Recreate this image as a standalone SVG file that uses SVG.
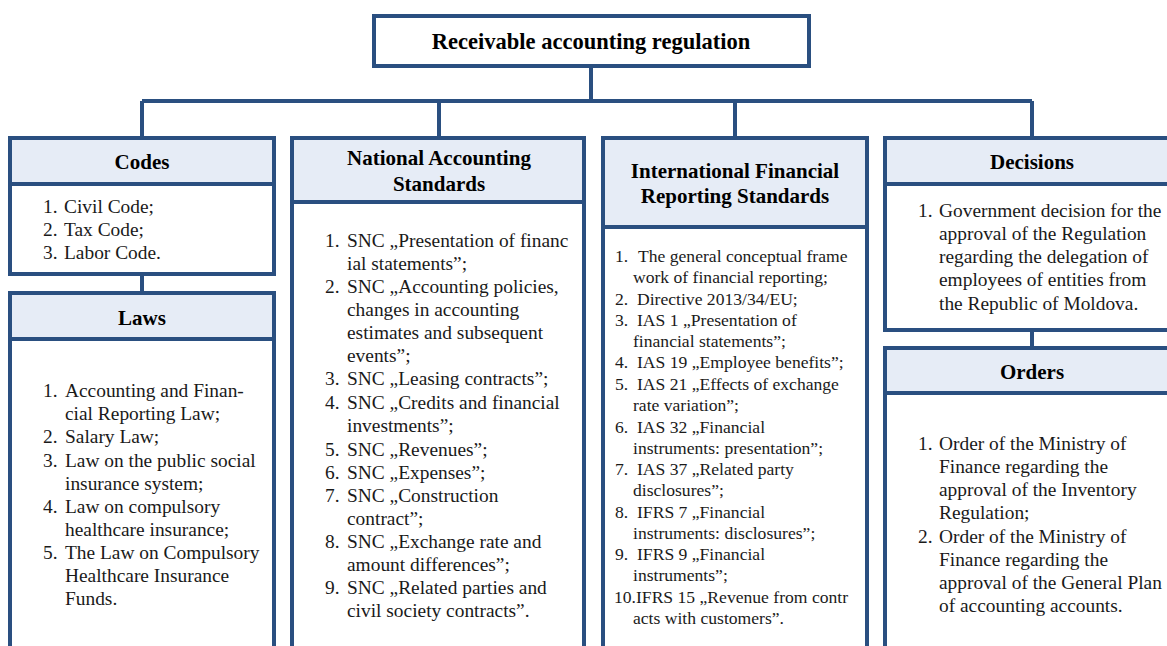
<svg xmlns="http://www.w3.org/2000/svg" width="1167" height="646" viewBox="0 0 1167 646">
  <style>
    .box { fill: #ffffff; stroke: #2a4f80; stroke-width: 4; }
    .head { fill: #e6ecf6; stroke: #2a4f80; stroke-width: 4; }
    .wire { fill: none; stroke: #2a4f80; stroke-width: 4; }
    .title { font-family: "Liberation Serif", "Times New Roman", serif; font-weight: bold; font-size: 22.5px; fill: #000; text-anchor: middle; }
    .hd { font-family: "Liberation Serif", "Times New Roman", serif; font-weight: bold; font-size: 21px; fill: #000; text-anchor: middle; }
    .it { font-family: "Liberation Serif", "Times New Roman", serif; font-size: 19.4px; fill: #1a1a1a; }
    .sm { font-family: "Liberation Serif", "Times New Roman", serif; font-size: 17.6px; fill: #1a1a1a; }
  </style>
  <rect width="1167" height="646" fill="#ffffff"/>

  <!-- connectors -->
  <g id="connectors">
    <path class="wire" d="M591 66 V101 M142 101 H1032 M142 101 V138 M439 101 V138 M735 101 V138 M1032 101 V138"/>
    <path class="wire" d="M142 274 V293"/>
    <path class="wire" d="M1032 330 V348"/>
  </g>

  <!-- root -->
  <g id="root">
    <rect class="box" x="374" y="16" width="435" height="50"/>
    <text class="title" x="591" y="49">Receivable accounting regulation</text>
  </g>

  <!-- Codes -->
  <g id="codes">
    <rect class="box" x="10" y="138" width="264" height="136"/>
    <rect class="head" x="10" y="138" width="264" height="46"/>
    <text class="hd" x="142" y="169">Codes</text>
    <g class="it">
      <text x="43" y="213">1.</text><text x="64" y="213">Civil Code;</text>
      <text x="43" y="236">2.</text><text x="64" y="236">Tax Code;</text>
      <text x="43" y="259">3.</text><text x="64" y="259">Labor Code.</text>
    </g>
  </g>

  <!-- Laws -->
  <g id="laws">
    <rect class="box" x="10" y="293" width="264" height="380"/>
    <rect class="head" x="10" y="293" width="264" height="46"/>
    <text class="hd" x="142" y="325">Laws</text>
    <g class="it">
      <text x="43" y="397">1.</text><text x="65" y="397">Accounting and Finan-</text>
      <text x="65" y="420">cial Reporting Law;</text>
      <text x="43" y="443">2.</text><text x="65" y="443">Salary Law;</text>
      <text x="43" y="467">3.</text><text x="65" y="467">Law on the public social</text>
      <text x="65" y="490">insurance system;</text>
      <text x="43" y="513">4.</text><text x="65" y="513">Law on compulsory</text>
      <text x="65" y="536">healthcare insurance;</text>
      <text x="43" y="559">5.</text><text x="65" y="559">The Law on Compulsory</text>
      <text x="65" y="582">Healthcare Insurance</text>
      <text x="65" y="605">Funds.</text>
    </g>
  </g>

  <!-- National Accounting Standards -->
  <g id="nas">
    <rect class="box" x="292" y="138" width="292" height="535"/>
    <rect class="head" x="292" y="138" width="292" height="64"/>
    <text class="hd" x="439" y="165">National Accounting</text>
    <text class="hd" x="439" y="191">Standards</text>
    <g class="it">
      <text x="325" y="247">1.</text><text x="347" y="247">SNC „Presentation of financ</text>
      <text x="347" y="270">ial statements”;</text>
      <text x="325" y="293">2.</text><text x="347" y="293">SNC „Accounting policies,</text>
      <text x="347" y="316">changes in accounting</text>
      <text x="347" y="339">estimates and subsequent</text>
      <text x="347" y="362">events”;</text>
      <text x="325" y="385">3.</text><text x="347" y="385">SNC „Leasing contracts”;</text>
      <text x="325" y="409">4.</text><text x="347" y="409">SNC „Credits and financial</text>
      <text x="347" y="432">investments”;</text>
      <text x="325" y="456">5.</text><text x="347" y="456">SNC „Revenues”;</text>
      <text x="325" y="479">6.</text><text x="347" y="479">SNC „Expenses”;</text>
      <text x="325" y="502">7.</text><text x="347" y="502">SNC „Construction</text>
      <text x="347" y="525">contract”;</text>
      <text x="325" y="548">8.</text><text x="347" y="548">SNC „Exchange rate and</text>
      <text x="347" y="571">amount differences”;</text>
      <text x="325" y="594">9.</text><text x="347" y="594">SNC „Related parties and</text>
      <text x="347" y="617">civil society contracts”.</text>
    </g>
  </g>

  <!-- International Financial Reporting Standards -->
  <g id="ifrs">
    <rect class="box" x="603" y="138" width="264" height="535"/>
    <rect class="head" x="603" y="138" width="264" height="89"/>
    <text class="hd" x="735" y="178">International Financial</text>
    <text class="hd" x="735" y="203">Reporting Standards</text>
    <g class="sm">
      <text x="615" y="262">1.</text><text x="638" y="262">The general conceptual frame</text>
      <text x="633" y="283">work of financial reporting;</text>
      <text x="615" y="305">2.</text><text x="637" y="305">Directive 2013/34/EU;</text>
      <text x="615" y="326">3.</text><text x="637" y="326">IAS 1 „Presentation of</text>
      <text x="633" y="347">financial statements”;</text>
      <text x="615" y="368">4.</text><text x="637" y="368">IAS 19 „Employee benefits”;</text>
      <text x="615" y="390">5.</text><text x="637" y="390">IAS 21 „Effects of exchange</text>
      <text x="633" y="411">rate variation”;</text>
      <text x="615" y="433">6.</text><text x="637" y="433">IAS 32 „Financial</text>
      <text x="633" y="454">instruments: presentation”;</text>
      <text x="615" y="475">7.</text><text x="637" y="475">IAS 37 „Related party</text>
      <text x="633" y="496">disclosures”;</text>
      <text x="615" y="518">8.</text><text x="637" y="518">IFRS 7 „Financial</text>
      <text x="633" y="539">instruments: disclosures”;</text>
      <text x="615" y="560">9.</text><text x="637" y="560">IFRS 9 „Financial</text>
      <text x="633" y="581">instruments”;</text>
      <text x="614" y="603">10.IFRS 15 „Revenue from contr</text>
      <text x="633" y="624">acts with customers”.</text>
    </g>
  </g>

  <!-- Decisions -->
  <g id="decisions">
    <rect class="box" x="885" y="138" width="300" height="192"/>
    <rect class="head" x="885" y="138" width="300" height="46"/>
    <text class="hd" x="1032" y="169">Decisions</text>
    <g class="it">
      <text x="918" y="217">1.</text><text x="939" y="217">Government decision for the</text>
      <text x="939" y="240">approval of the Regulation</text>
      <text x="939" y="263">regarding the delegation of</text>
      <text x="939" y="286">employees of entities from</text>
      <text x="939" y="310">the Republic of Moldova.</text>
    </g>
  </g>

  <!-- Orders -->
  <g id="orders">
    <rect class="box" x="885" y="348" width="300" height="325"/>
    <rect class="head" x="885" y="348" width="300" height="45"/>
    <text class="hd" x="1032" y="379">Orders</text>
    <g class="it">
      <text x="918" y="450">1.</text><text x="939" y="450">Order of the Ministry of</text>
      <text x="939" y="473">Finance regarding the</text>
      <text x="939" y="496">approval of the Inventory</text>
      <text x="939" y="519">Regulation;</text>
      <text x="918" y="543">2.</text><text x="939" y="543">Order of the Ministry of</text>
      <text x="939" y="566">Finance regarding the</text>
      <text x="939" y="589">approval of the General Plan</text>
      <text x="939" y="612">of accounting accounts.</text>
    </g>
  </g>
</svg>
